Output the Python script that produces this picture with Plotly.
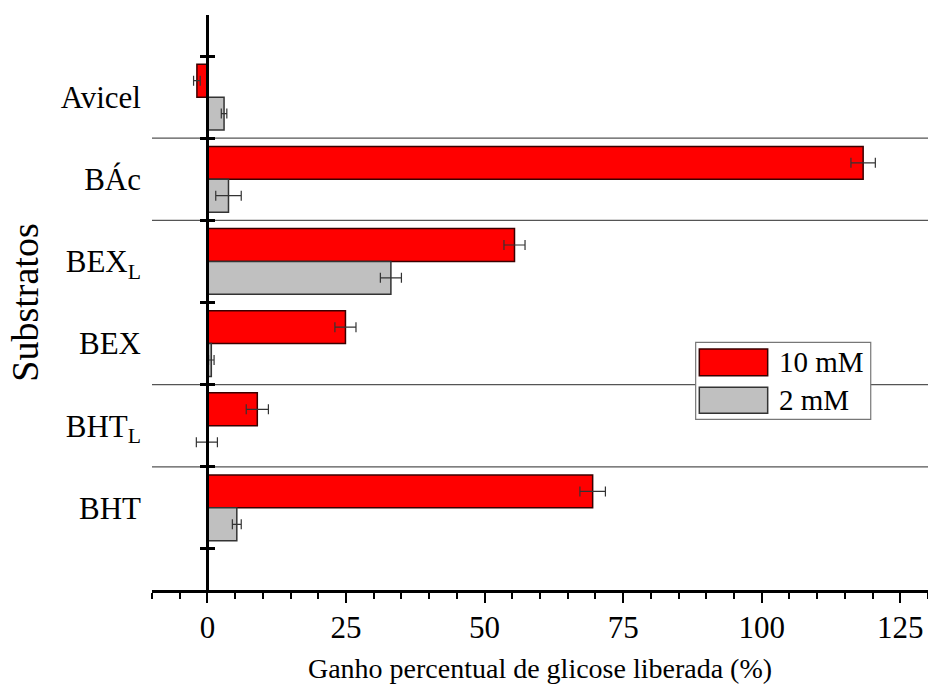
import plotly.graph_objects as go

# ---------------- data ----------------
categories = ["Avicel", "BÁc", "BEX<sub>L</sub>", "BEX", "BHT<sub>L</sub>", "BHT"]
series_names = ["10 mM", "2 mM"]
vals_10mM = [-1.9, 118.3, 55.4, 24.9, 9.0, 69.5]
err_10mM = [0.6, 2.2, 1.9, 1.9, 2.0, 2.3]
vals_2mM = [3.0, 3.8, 33.1, 0.7, -0.1, 5.3]
err_2mM = [0.5, 2.3, 1.9, 0.5, 1.9, 0.8]
x_ticks = [0, 25, 50, 75, 100, 125]
# groups separated by a thin line (pairs of neighbouring categories)
separated_pairs = [("Avicel", "BÁc"), ("BÁc", "BEX<sub>L</sub>"),
                   ("BEX", "BHT<sub>L</sub>"), ("BHT<sub>L</sub>", "BHT")]

# ---------------- style ----------------
FONT = "Liberation Serif"
RED = "#FF0000"
GRAY = "#C0C0C0"
x_range = [-10, 130]
n = len(categories)
order = list(reversed(categories))  # bottom -> top
pos = {c: i for i, c in enumerate(order)}
y_range = [-1, n]
bar_w = 0.4

fig = go.Figure()
fig.add_trace(go.Bar(
    y=[pos[c] for c in categories], x=vals_10mM, orientation="h",
    name=series_names[0], width=bar_w, offset=0,
    marker=dict(color=RED, line=dict(color="#3a0000", width=1.5)),
    error_x=dict(type="data", array=err_10mM, color="#333333", thickness=1.2, width=5),
    showlegend=False,
))
fig.add_trace(go.Bar(
    y=[pos[c] for c in categories], x=vals_2mM, orientation="h",
    name=series_names[1], width=bar_w, offset=-bar_w,
    marker=dict(color=GRAY, line=dict(color="#333333", width=1.5)),
    error_x=dict(type="data", array=err_2mM, color="#333333", thickness=1.2, width=5),
    showlegend=False,
))
for ax in ["y2", "y3"]:
    fig.add_trace(go.Scatter(x=[None], y=[None], yaxis=ax, showlegend=False,
                             hoverinfo="skip", mode="markers"))

boundaries = [i - 0.5 for i in range(n + 1)]
ypos_zero = (0 - x_range[0]) / (x_range[1] - x_range[0])

common_y = dict(range=y_range, type="linear", tickvals=boundaries,
                showticklabels=False, showgrid=False, zeroline=False,
                overlaying="y", anchor="free", position=ypos_zero,
                tickcolor="black", tickwidth=2.5, ticklen=7)

fig.update_layout(
    width=928, height=692,
    margin=dict(l=152, r=0, t=15, b=102),
    paper_bgcolor="white", plot_bgcolor="white",
    barmode="overlay",
    font=dict(family=FONT, color="black", size=31),
    xaxis=dict(range=x_range, tickvals=x_ticks, ticks="outside", ticklen=10,
               tickwidth=2, tickcolor="black", showline=True, linecolor="black",
               linewidth=2.5, showgrid=False, zeroline=False,
               minor=dict(dtick=5, tick0=0, ticks="outside", ticklen=6,
                          tickwidth=2, tickcolor="black"),
               tickfont=dict(size=31, family=FONT), ticklabelstandoff=-2,
               title=dict(text="Ganho percentual de glicose liberada (%)",
                          font=dict(size=28, family=FONT), standoff=15)),
    yaxis=dict(range=y_range, type="linear",
               tickvals=[pos[c] for c in categories], ticktext=categories,
               ticks="", showline=False, showgrid=False, zeroline=False,
               tickfont=dict(size=31, family=FONT), ticklabelstandoff=10,
               title=dict(text="Substratos", font=dict(size=38, family=FONT),
                          standoff=10)),
    yaxis2=dict(**common_y, showline=True, linecolor="black", linewidth=2.5,
                ticks="outside"),
    yaxis3=dict(**common_y, showline=False, ticks="inside"),
)

for a, b in separated_pairs:
    yb = (pos[a] + pos[b]) / 2
    fig.add_shape(type="line", xref="paper", x0=0, x1=1, yref="y", y0=yb, y1=yb,
                  line=dict(color="#555555", width=1.3), layer="below")

fig.add_shape(type="rect", xref="paper", yref="paper", x0=0.7006, x1=0.9262,
              y0=0.2969, y1=0.4308, line=dict(color="#777777", width=1.2),
              fillcolor="white", layer="above")
leg_rows = [(series_names[0], RED, "#3a0000", 0.4191, 0.3727),
            (series_names[1], GRAY, "#333333", 0.3525, 0.3073)]
for name, fill, edge, ytop, ybot in leg_rows:
    fig.add_shape(type="rect", xref="paper", yref="paper", x0=0.7053, x1=0.7934,
                  y0=ybot, y1=ytop, fillcolor=fill, line=dict(color=edge, width=1.5),
                  layer="above")
    fig.add_annotation(xref="paper", yref="paper", x=0.8052, y=(ytop + ybot) / 2,
                       text=name, showarrow=False, xanchor="left", yanchor="middle",
                       font=dict(size=29, family=FONT, color="black"))

fig.write_html("out.html")
